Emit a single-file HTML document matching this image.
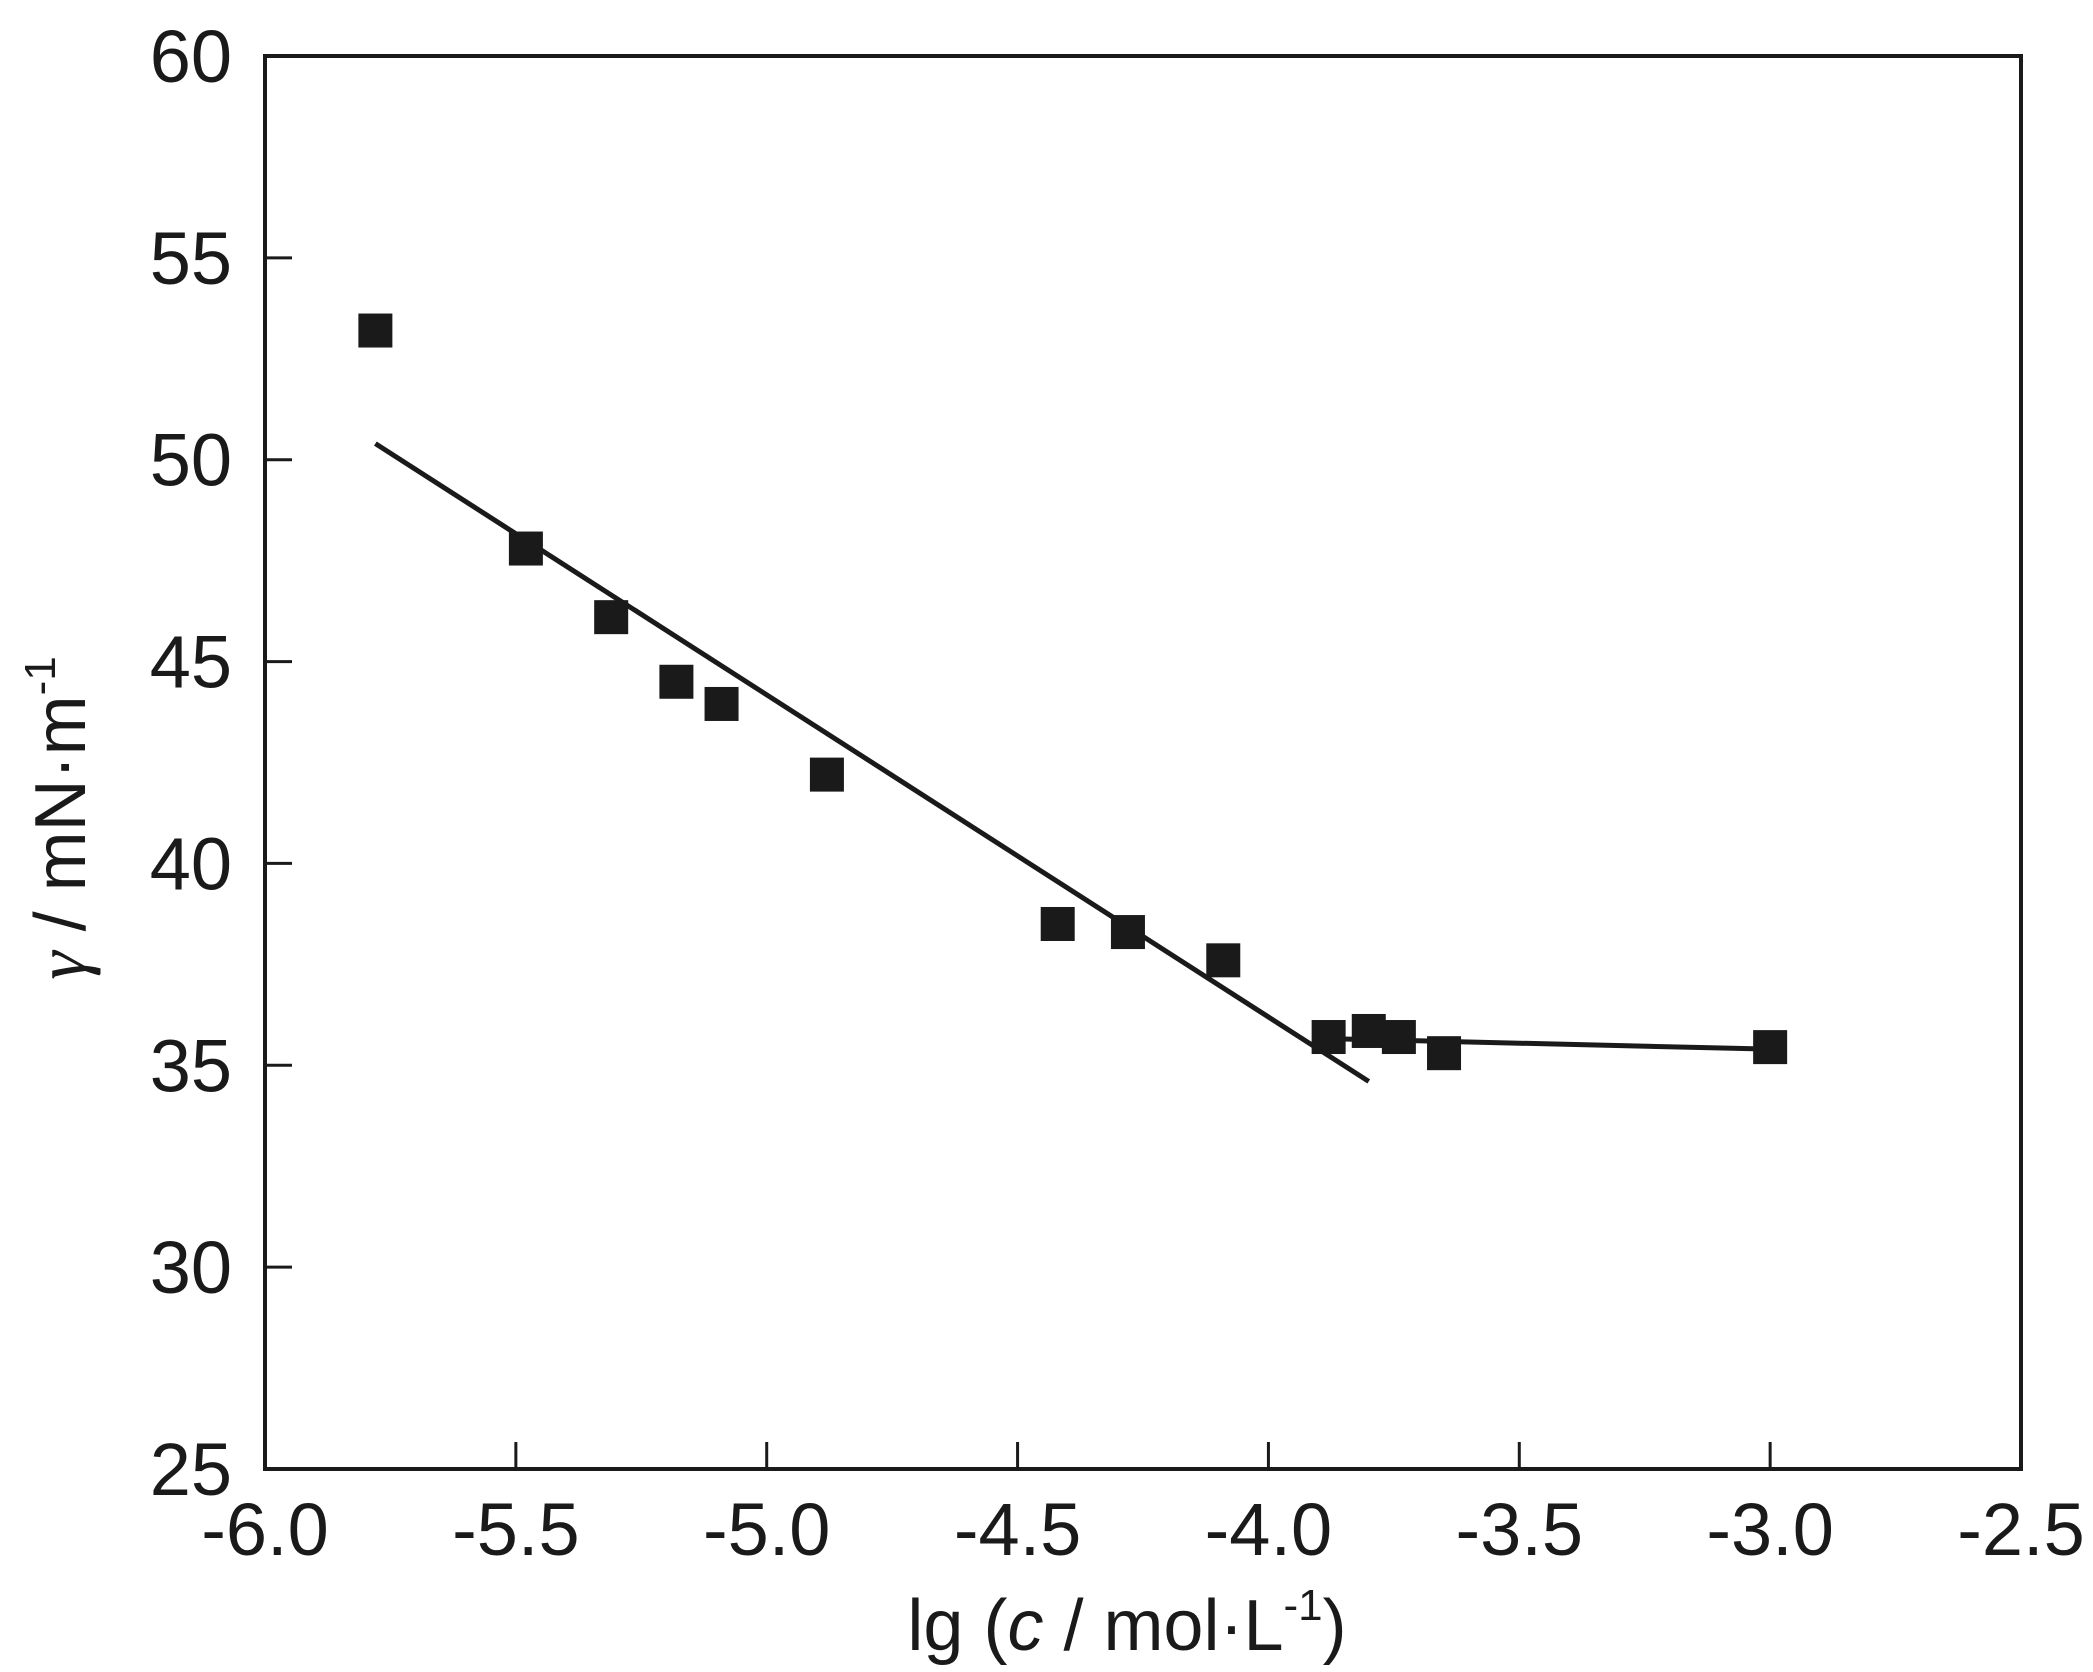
<!DOCTYPE html>
<html><head><meta charset="utf-8"><style>
html,body{margin:0;padding:0;background:#fff;}
svg{display:block;font-family:"Liberation Sans",sans-serif;}
</style></head><body>
<svg id="chart" width="2093" height="1672" viewBox="0 0 2093 1672" xmlns="http://www.w3.org/2000/svg">
<rect x="265" y="56" width="1756" height="1413" fill="none" stroke="#1a1a1a" stroke-width="4"/>
<g id="ticks"></g>
<g id="lines"></g>
<g id="points"></g>
<text x="1127" y="1650" font-size="72" text-anchor="middle" fill="#1a1a1a">lg (<tspan font-style="italic">c</tspan> / mol·L<tspan font-size="44" dy="-30">-1</tspan><tspan dy="30">)</tspan></text>
<text transform="translate(85,818) rotate(-90)" font-size="72" text-anchor="middle" fill="#1a1a1a"><tspan font-family="Liberation Serif" font-style="italic">γ</tspan> / mN·m<tspan font-size="44" dy="-30">-1</tspan></text>
</svg>
<script>
const xTicks=[-6.0,-5.5,-5.0,-4.5,-4.0,-3.5,-3.0,-2.5];
const xTickLabels=["-6.0","-5.5","-5.0","-4.5","-4.0","-3.5","-3.0","-2.5"];
const yTicks=[25,30,35,40,45,50,55,60];
const yTickLabels=["25","30","35","40","45","50","55","60"];
const xs=[-5.78,-5.48,-5.31,-5.18,-5.09,-4.88,-4.42,-4.28,-4.09,-3.88,-3.80,-3.74,-3.65,-3.00];
const ys=[53.2,47.8,46.1,44.5,43.95,42.2,38.5,38.3,37.6,35.7,35.85,35.7,35.3,35.45];
const fit1X=[-5.78,-3.80];
const fit1Y=[50.4,34.6];
const fit2X=[-3.85,-3.00];
const fit2Y=[35.65,35.4];
const NS="http://www.w3.org/2000/svg";
const L=265,R=2021,T=56,B=1469;
const sx=v=>L+(v-(-6))/3.5*(R-L);
const sy=v=>B-(v-25)/35*(B-T);
function mk(tag,attrs,parent){const e=document.createElementNS(NS,tag);for(const k in attrs)e.setAttribute(k,attrs[k]);parent.appendChild(e);return e;}
const tg=document.getElementById('ticks');
xTicks.forEach((v,i)=>{
 if(i>0&&i<xTicks.length-1){const t=mk('line',{x1:sx(v),x2:sx(v),y1:B,y2:B-27,stroke:'#1a1a1a','stroke-width':3},tg);
 
 }
 const tx=mk('text',{x:sx(v),y:1555,'font-size':74,'text-anchor':'middle',fill:'#1a1a1a'},tg);
 tx.textContent=xTickLabels[i];
 
 
});
yTicks.forEach((v,i)=>{
 if(i>0&&i<yTicks.length-1){const t=mk('line',{x1:L,x2:L+27,y1:sy(v),y2:sy(v),stroke:'#1a1a1a','stroke-width':3},tg);
 
 }
 const tx=mk('text',{x:232,y:sy(v)+26,'font-size':74,'text-anchor':'end',fill:'#1a1a1a'},tg);
 tx.textContent=yTickLabels[i];
 
 
});
const lg=document.getElementById('lines');
const l1=mk('line',{x1:sx(fit1X[0]),y1:sy(fit1Y[0]),x2:sx(fit1X[1]),y2:sy(fit1Y[1]),stroke:'#1a1a1a','stroke-width':5},lg);


const l2=mk('line',{x1:sx(fit2X[0]),y1:sy(fit2Y[0]),x2:sx(fit2X[1]),y2:sy(fit2Y[1]),stroke:'#1a1a1a','stroke-width':5},lg);


const pg=document.getElementById('points');
xs.forEach((v,i)=>{
 const p=mk('rect',{x:sx(v)-17,y:sy(ys[i])-17,width:34,height:34,fill:'#1a1a1a'},pg);
 
 
});
</script>
</body></html>
